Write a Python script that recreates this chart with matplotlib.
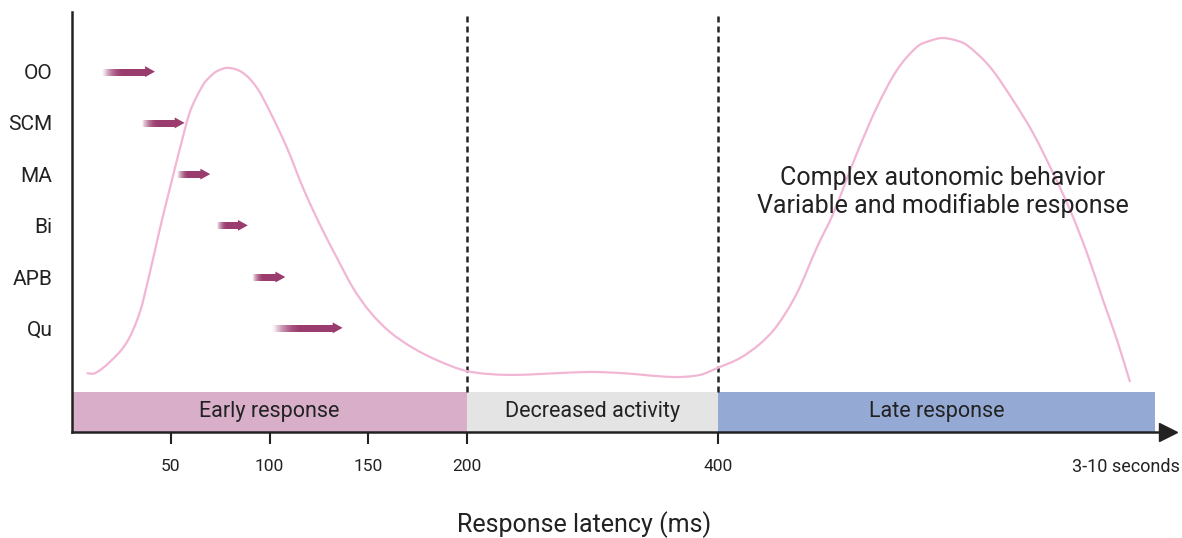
import numpy as np
import matplotlib
matplotlib.use("Agg")
import matplotlib.pyplot as plt
from matplotlib.collections import LineCollection
from matplotlib.colors import to_rgba
from matplotlib.path import Path
from matplotlib.patches import PathPatch

plt.rcParams["font.family"] = ["Roboto", "DejaVu Sans"]

# muscles, row level and onset arrows (ms)
muscles      = ["OO", "SCM", "MA", "Bi", "APB", "Qu"]
muscle_level = [85.8, 73.6, 61.4, 49.2, 36.9, 24.8]
arrow_start  = [15, 35, 53, 73, 91, 101]
arrow_end    = [42, 57, 70, 89, 108, 137]

# response curve (ms, relative activity)
curve_ms = [7.4, 11.6, 19.2, 27.8, 34.4, 39.5, 44.6, 49.6, 54.7, 59.7,
            66.3, 69.9, 73.4, 79.0, 86.6, 93.7, 100.3, 108.9, 117.0,
            125.6, 134.2, 142.3, 150.9, 161.0, 172.7, 184.8, 200, 231.9, 271.7,
            298.0, 324.3, 364.1, 385.7, 400, 925, 1403, 1809, 2287, 2764,
            3146, 3719, 4197, 4675, 5152, 5450, 5749, 6060, 6346, 6896,
            7445, 7922, 8400, 8806, 9212, 9594, 9928, 10239]
curve_level = [14.0, 14.0, 16.7, 21.4, 28.6, 38.1, 48.6, 58.1, 67.6, 76.2,
               82.6, 84.6, 85.9, 86.7, 85.5, 81.9, 76.2, 67.6, 58.1,
               49.3, 41.4, 34.3, 28.6, 23.8, 20.0, 17.1, 14.5, 13.6, 14.0,
               14.3, 14.0, 13.1, 13.6, 15.3, 17.6, 21.0, 25.3, 33.1, 44.0,
               51.9, 66.4, 77.4, 86.2, 91.7, 93.1, 93.8, 93.3, 92.1, 86.9,
               79.0, 71.2, 61.7, 52.9, 42.6, 31.4, 21.9, 11.9]

phase_names  = ["Early response", "Decreased activity", "Late response"]
phase_start  = [0, 200, 400]
phase_end    = [200, 400, 10836]
phase_colors = ["#d8aec9", "#e4e4e4", "#94a9d4"]

tick_ms    = [50, 100, 150, 200, 400]
divider_ms = [200, 400]

# piecewise axis: 0-200 ms wide, 200-400 ms narrower, seconds squeezed
axis_ms  = [0, 200, 400, 12000]
axis_pos = [0, 395, 646, 1131.75]


def fwd(x):
    return np.interp(x, axis_ms, axis_pos)


def inv(p):
    return np.interp(p, axis_pos, axis_ms)


def smooth_path(xs, ys):
    # cubic Hermite through the read points, built in axis-position space
    px = fwd(np.asarray(xs, float))
    py = np.asarray(ys, float)
    n = len(px)
    m = np.empty(n)
    m[0] = (py[1] - py[0]) / (px[1] - px[0])
    m[-1] = (py[-1] - py[-2]) / (px[-1] - px[-2])
    m[1:-1] = (py[2:] - py[:-2]) / (px[2:] - px[:-2])
    verts = [(px[0], py[0])]
    codes = [Path.MOVETO]
    for i in range(n - 1):
        h = (px[i + 1] - px[i]) / 3
        verts += [(px[i] + h, py[i] + m[i] * h),
                  (px[i + 1] - h, py[i + 1] - m[i + 1] * h),
                  (px[i + 1], py[i + 1])]
        codes += [Path.CURVE4] * 3
    verts = [(inv(x), y) for x, y in verts]
    return Path(verts, codes)


CURVE = "#f2b6d5"
ARROW = "#9b3c6e"
INK   = "#222222"

fig = plt.figure(figsize=(11.82, 5.38), dpi=100)
ax = fig.add_axes([72 / 1182, 106 / 538, 1096 / 1182, 420 / 538])
ax.set_xscale("function", functions=(fwd, inv))
ax.set_xlim(0, 11146)
ax.set_ylim(0, 100)

# phase bands
band_top = 9.5
for name, a, b, c in zip(phase_names, phase_start, phase_end, phase_colors):
    ax.fill_between([a, b], 0, band_top, color=c, linewidth=0, zorder=1)
    mid = inv((fwd(a) + fwd(b)) / 2)
    ax.text(mid, 4.9, name, ha="center", va="center", fontsize=15.5,
            color=INK, zorder=3)

# dividers
ax.vlines(divider_ms, band_top, 99.5, colors=INK, linewidth=1.8,
          linestyles=(0, (2.4, 1.6)), zorder=2)

# curve
ax.add_patch(PathPatch(smooth_path(curve_ms, curve_level), facecolor="none",
                       edgecolor=CURVE, linewidth=1.6, zorder=2))

# onset arrows, shaft fading in from the left
rgb = to_rgba(ARROW)[:3]
head_len = 5.0
head_half = 1.3
n_seg = 60
for y, a, b in zip(muscle_level, arrow_start, arrow_end):
    shaft_end = b - head_len
    xs = np.linspace(a, shaft_end, n_seg + 1)
    segs = [[(xs[i], y), (xs[i + 1], y)] for i in range(n_seg)]
    alphas = np.clip(np.linspace(0, 2.0, n_seg), 0, 1)
    cols = [(*rgb, al) for al in alphas]
    lc = LineCollection(segs, colors=cols, linewidths=5.0, capstyle="butt",
                        antialiaseds=False, zorder=4)
    ax.add_collection(lc)
    ax.fill([shaft_end, b, shaft_end], [y - head_half, y, y + head_half],
            color=ARROW, linewidth=0, zorder=4)

# axes styling
for side in ["top", "right"]:
    ax.spines[side].set_visible(False)
for side in ["left", "bottom"]:
    ax.spines[side].set_linewidth(1.8)
    ax.spines[side].set_color(INK)
ax.plot(1, 0, marker=">", markersize=13, color=INK,
        transform=ax.transAxes, clip_on=False, zorder=5)

ax.set_xticks(tick_ms)
ax.set_xticklabels([str(t) for t in tick_ms])
ax.xaxis.set_minor_locator(matplotlib.ticker.NullLocator())
ax.tick_params(axis="x", length=8.6, width=1.5, color=INK, pad=11,
               labelsize=12.5, labelcolor=INK)
ax.set_yticks(muscle_level)
ax.set_yticklabels(muscles)
ax.tick_params(axis="y", length=0, pad=14, labelsize=15, labelcolor=INK)

ax.text(10143, -8.3, "3-10 seconds", ha="center", va="center",
        fontsize=13, color=INK, clip_on=False)
ax.text(inv(943 - 72), 57.1,
        "Complex autonomic behavior\nVariable and modifiable response",
        ha="center", va="center", fontsize=18, color=INK, linespacing=1.15)

fig.text(584 / 1182, 1 - 525 / 538, "Response latency (ms)",
         ha="center", va="center", fontsize=18, color=INK)

fig.savefig("out.png", dpi=100)
